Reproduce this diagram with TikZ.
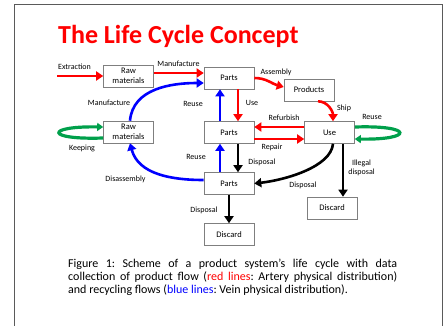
\documentclass[tikz,border=0pt]{standalone}
\usepackage{fontspec}
\setmainfont{Carlito}
\usetikzlibrary{arrows.meta}

\definecolor{flowred}{RGB}{255,0,0}
\definecolor{flowblue}{RGB}{0,0,255}
\definecolor{flowgreen}{RGB}{0,160,75}
\definecolor{boxgray}{RGB}{127,127,127}
\definecolor{framegray}{RGB}{90,90,90}

\tikzset{
  stagebox/.style={draw=boxgray,line width=0.6pt,minimum width=50pt,minimum height=22pt,
    inner sep=0pt,align=center,font=\fontsize{8.5}{10}\selectfont},
  flowlabel/.style={inner sep=0pt,align=center,font=\fontsize{8}{9}\selectfont},
  flow/.style={line width=2.6pt,-{Triangle[length=7pt,width=9pt]}},
  redflow/.style={flow,draw=flowred},
  blueflow/.style={flow,draw=flowblue},
  blackflow/.style={flow,draw=black},
  greenflow/.style={line width=3.2pt,draw=flowgreen,-{Triangle[length=6pt,width=8pt]}}
}

\begin{document}
\begin{tikzpicture}[x=1pt,y=1pt]
\useasboundingbox (0,0) rectangle (446,325);

% slide frame
\draw[framegray,line width=0.9pt] (14,-5) -- (14,321) -- (442,321) -- (442,-5);

\node[anchor=base west,inner sep=0pt,text=flowred,font=\fontsize{26}{30}\selectfont\bfseries] (title) at (58,282) {The Life Cycle Concept};

% stages
\node[stagebox] (raw1) at (128.5,249) {Raw\\materials};
\node[stagebox] (parts1) at (229,247) {Parts};
\node[stagebox] (products) at (309,235) {Products};
\node[stagebox] (raw2) at (128.5,193) {Raw\\materials};
\node[stagebox] (parts2) at (229,192.5) {Parts};
\node[stagebox] (use) at (329.5,192.5) {Use};
\node[stagebox] (parts3) at (229,141.5) {Parts};
\node[stagebox] (discard1) at (332,117) {Discard};
\node[stagebox] (discard2) at (229,90.5) {Discard};

% labels
\node[flowlabel] (lextraction) at (74.5,258) {Extraction};
\node[flowlabel] (lmanuf1) at (178.5,261) {Manufacture};
\node[flowlabel] (lassembly) at (276,253) {Assembly};
\node[flowlabel] (lship) at (344,217) {Ship};
\node[flowlabel] (lmanuf2) at (109,222) {Manufacture};
\node[flowlabel] (lreuse1) at (193,221) {Reuse};
\node[flowlabel] (luse) at (252,222) {Use};
\node[flowlabel] (lrefurbish) at (284,207) {Refurbish};
\node[flowlabel] (lreuse2) at (372,208) {Reuse};
\node[flowlabel] (lkeeping) at (82,177) {Keeping};
\node[flowlabel] (lrepair) at (272,178) {Repair};
\node[flowlabel] (ldisposal1) at (262,163) {Disposal};
\node[flowlabel] (lreuse3) at (196,168) {Reuse};
\node[flowlabel] (lillegal) at (361.5,157) {Illegal\\disposal};
\node[flowlabel] (ldisassembly) at (125.5,146) {Disassembly};
\node[flowlabel] (ldisposal2) at (303,140) {Disposal};
\node[flowlabel] (ldisposal3) at (204,115) {Disposal};

% red flows
\coordinate (ext) at (57,249);
\draw[redflow] (ext) -- (raw1);
\draw[redflow] ([yshift=3pt]raw1.east) -- ([yshift=5pt]parts1.west);
\draw[redflow] (parts1.east) to[out=0,in=165] ([yshift=3pt]products.west);
\draw[redflow] ([xshift=9pt]products.south) to[out=0,in=90] ([xshift=3.5pt]use.north);
\draw[redflow] ([xshift=9pt]parts1.south) -- ([xshift=9pt]parts2.north);
\draw[redflow] ([yshift=5.5pt]use.west) -- ([yshift=5.5pt]parts2.east);
\draw[redflow] ([yshift=-6.5pt]parts2.east) -- ([yshift=-6.5pt]use.west);

% blue flows
\draw[blueflow] ([xshift=1.5pt]raw2.north) to[out=85,in=180] ([yshift=-5pt]parts1.west);
\draw[blueflow] ([xshift=-9pt]parts2.north) -- ([xshift=-9pt]parts1.south);
\draw[blueflow] ([xshift=-9pt]parts3.north) -- ([xshift=-9pt]parts2.south);
\draw[blueflow] ([yshift=3.5pt]parts3.west) to[out=180,in=-75] ([xshift=1.5pt]raw2.south);

% black flows
\draw[blackflow] ([xshift=9pt]parts2.south) -- ([xshift=9pt]parts3.north);
\draw[blackflow] ([xshift=3.5pt]use.south) .. controls (331,158) and (285,145) .. (parts3.east);
\draw[blackflow] ([xshift=13.5pt]use.south) -- ([xshift=11pt]discard1.north);
\draw[blackflow] (parts3.south) -- (discard2.north);

% green loops
\draw[greenflow] ([yshift=-6pt]raw2.west) .. controls (45,185) and (45,199) .. ([yshift=5pt]raw2.west);
\draw[greenflow] ([yshift=5.5pt]use.east) .. controls (414,200) and (414,185) .. ([yshift=-6.5pt]use.east);

% caption
\node[anchor=north west,inner sep=0pt,text width=329pt,align=justify,
  font=\fontsize{12}{13.2}\selectfont] (caption) at (68,66.5)
  {\frenchspacing Figure 1: Scheme of a product system's life cycle with data\linebreak collection of product flow (\textcolor{flowred}{red lines}: Artery physical distribution)\linebreak and recycling flows (\textcolor{flowblue}{blue lines}: Vein physical distribution).};
\end{tikzpicture}
\end{document}
